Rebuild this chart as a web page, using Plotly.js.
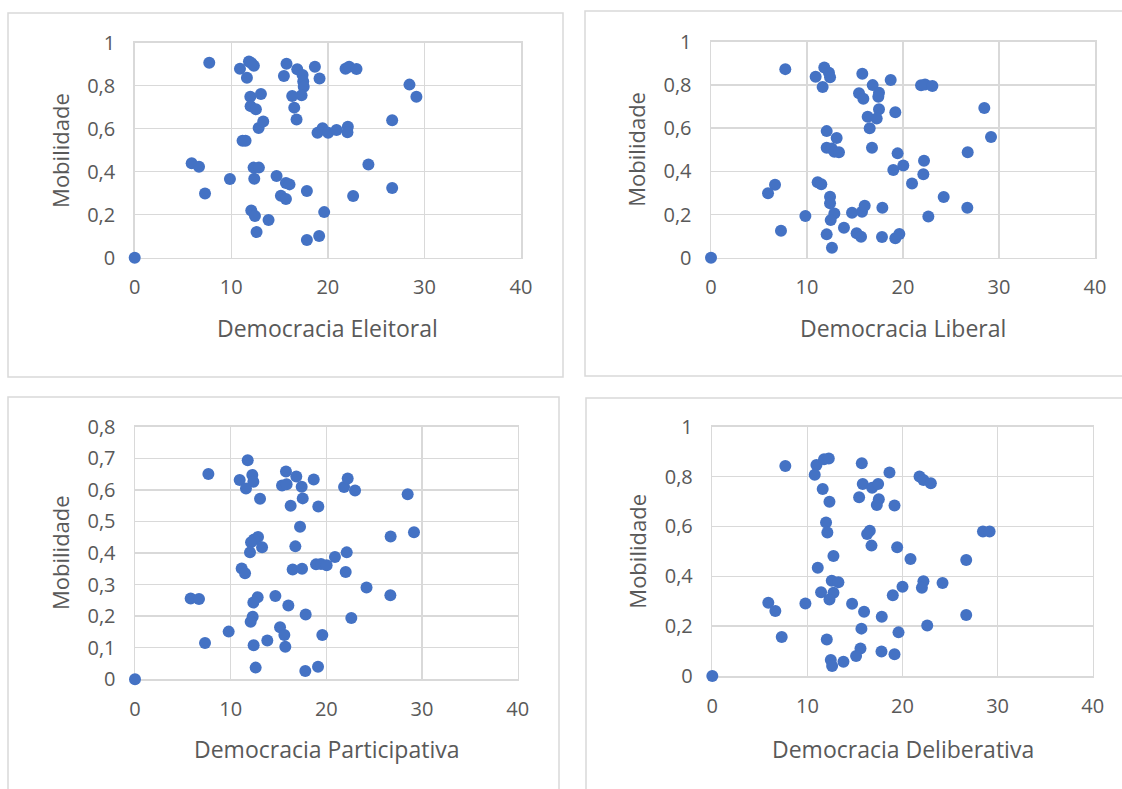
<!DOCTYPE html>
<html>
<head>
<meta charset="utf-8">
<script src="https://cdn.plot.ly/plotly-3.0.1.min.js"></script>
<style>html,body{margin:0;padding:0;background:#fff}#chart{width:1122px;height:789px}</style>
</head>
<body>
<div id="chart"></div>
<script>
// Panel titles
const xTitles = ["Democracia Eleitoral", "Democracia Liberal", "Democracia Participativa", "Democracia Deliberativa"];
const yTitle = "Mobilidade";

// Democracia Eleitoral
const xEleitoral = [0,7.72,10.9,11.83,12.34,12.1,11.62,15.72,15.45,16.83,17.38,17.45,17.5,18.66,19.14,16.31,17.28,16.52,16.76,11.97,13.07,12.0,12.55,12.83,13.31,11.17,11.48,21.83,22.2,22.97,28.45,29.17,26.66,18.93,19.45,20.03,20.9,22.07,22.03,5.9,6.66,7.28,9.86,12.31,12.86,12.38,14.69,15.66,16.03,15.14,15.66,17.83,24.2,26.66,22.62,12.07,12.45,13.86,12.62,19.62,17.83,19.1];
const yEleitoral = [0,0.907,0.879,0.913,0.893,0.904,0.837,0.902,0.845,0.876,0.85,0.819,0.795,0.888,0.833,0.752,0.755,0.698,0.643,0.749,0.761,0.705,0.69,0.603,0.634,0.544,0.544,0.879,0.888,0.878,0.805,0.749,0.639,0.581,0.602,0.581,0.594,0.609,0.584,0.439,0.423,0.299,0.366,0.419,0.419,0.367,0.38,0.347,0.341,0.288,0.273,0.31,0.433,0.324,0.287,0.219,0.194,0.175,0.119,0.212,0.082,0.101];

// Democracia Liberal
const xLiberal = [0,7.74,10.9,11.8,12.29,12.4,11.63,15.76,16.84,18.72,15.42,15.87,17.5,17.43,17.5,16.32,17.26,19.2,16.53,21.88,22.3,23.06,28.47,29.17,26.74,12.05,13.09,12.05,12.57,12.85,13.33,16.77,19.44,18.99,20.03,22.19,22.12,20.94,6.67,5.94,11.11,11.49,12.4,12.4,12.85,12.47,9.83,7.29,14.69,15.73,16.01,17.85,24.24,26.7,22.64,13.85,12.05,12.6,15.17,15.63,17.81,19.2,19.62];
const yLiberal = [0,0.873,0.838,0.881,0.856,0.835,0.79,0.852,0.799,0.823,0.761,0.736,0.764,0.745,0.687,0.653,0.644,0.673,0.599,0.798,0.802,0.795,0.693,0.559,0.488,0.586,0.554,0.509,0.506,0.491,0.488,0.509,0.483,0.406,0.427,0.449,0.386,0.344,0.338,0.298,0.349,0.34,0.282,0.252,0.205,0.174,0.193,0.125,0.208,0.213,0.241,0.231,0.281,0.231,0.191,0.139,0.108,0.046,0.113,0.097,0.096,0.09,0.11];

// Democracia Participativa
const xParticipativa = [0,7.67,11.78,10.94,12.26,12.37,11.6,13.07,15.78,15.37,15.85,16.86,17.42,17.53,16.27,18.68,19.16,21.85,22.23,23.0,28.5,29.16,26.72,17.25,12.86,12.44,12.13,13.28,12.02,16.76,20.9,22.13,18.92,19.44,20.03,16.48,17.46,22.02,11.15,11.5,5.82,6.69,14.67,12.82,12.37,16.03,24.2,26.69,17.84,22.61,12.3,12.09,9.79,7.32,15.16,15.61,13.83,12.4,15.71,19.58,12.61,17.8,19.13];
const yParticipativa = [0,0.65,0.694,0.631,0.647,0.626,0.604,0.572,0.658,0.614,0.618,0.642,0.61,0.573,0.55,0.633,0.547,0.609,0.636,0.598,0.586,0.466,0.452,0.483,0.451,0.443,0.434,0.418,0.402,0.421,0.387,0.402,0.364,0.365,0.361,0.348,0.35,0.34,0.351,0.336,0.256,0.254,0.264,0.26,0.243,0.234,0.291,0.266,0.205,0.194,0.198,0.182,0.151,0.115,0.165,0.14,0.123,0.108,0.103,0.14,0.037,0.026,0.04];

// Democracia Deliberativa
const xDeliberativa = [0,7.68,10.95,10.77,11.75,12.25,11.61,12.32,11.96,12.1,12.74,11.09,15.72,15.82,16.81,17.44,18.63,15.44,17.51,17.3,19.16,21.79,22.2,22.98,28.46,29.16,26.7,16.56,16.28,16.74,19.44,20.84,22.2,22.04,24.21,20.0,18.98,12.56,13.26,11.44,12.74,12.32,5.89,6.63,9.79,14.7,15.96,17.82,26.7,22.6,15.68,19.58,7.3,12.04,15.58,15.12,17.79,19.16,12.46,12.6,13.79];
const yDeliberativa = [0,0.842,0.846,0.807,0.869,0.872,0.75,0.699,0.616,0.576,0.481,0.434,0.853,0.77,0.755,0.77,0.816,0.717,0.709,0.686,0.684,0.8,0.786,0.773,0.58,0.58,0.465,0.583,0.57,0.523,0.516,0.469,0.38,0.354,0.373,0.358,0.324,0.382,0.376,0.336,0.334,0.307,0.294,0.261,0.291,0.29,0.258,0.238,0.245,0.203,0.19,0.175,0.156,0.146,0.11,0.08,0.098,0.087,0.064,0.04,0.057];

const W = 1122, H = 789;
const px = v => v / W;
const py = v => 1 - v / H;

const blue = "#4472C4";
const grid = "#d9d9d9";
const txt = "#595959";
const FONT = "'Open Sans', Lato, sans-serif";

const xs = [xEleitoral, xLiberal, xParticipativa, xDeliberativa];
const ys = [yEleitoral, yLiberal, yParticipativa, yDeliberativa];

const traces = xs.map((x, i) => ({
  type: "scatter", mode: "markers",
  x: x, y: ys[i],
  xaxis: i === 0 ? "x" : "x" + (i + 1),
  yaxis: i === 0 ? "y" : "y" + (i + 1),
  marker: {color: blue, size: 12},
  cliponaxis: false,
  hoverinfo: "x+y"
}));

// plot areas in pixels: [left, right, bottom, top]
const areas = [
  [134.7, 521, 257.7, 42.7],
  [711, 1095, 257.7, 41.7],
  [135, 517.7, 679.3, 426.7],
  [712.3, 1092.7, 676, 426.7]
];
const yMax = [1, 1, 0.8, 1];
const yStep = [0.2, 0.2, 0.1, 0.2];

const layout = {
  width: W, height: H,
  margin: {l: 0, r: 0, t: 0, b: 0},
  paper_bgcolor: "#fff", plot_bgcolor: "#fff",
  showlegend: false,
  separators: ",.",
  font: {family: FONT, color: txt, size: 20},
  shapes: [], annotations: []
};

areas.forEach((a, i) => {
  const sx = i === 0 ? "" : String(i + 1);
  layout["xaxis" + sx] = {
    domain: [px(a[0]), px(a[1])],
    anchor: "y" + sx,
    range: [0, 40], dtick: 10, tick0: 0,
    showgrid: true, gridcolor: grid, gridwidth: 1.5,
    showline: true, linecolor: grid, linewidth: 1.5, mirror: true,
    layer: "below traces",
    zeroline: false, ticks: "", ticklabelstandoff: 11,
    tickfont: {family: FONT, size: 20, color: txt},
    fixedrange: true
  };
  layout["yaxis" + sx] = {
    domain: [py(a[2]), py(a[3])],
    anchor: "x" + sx,
    range: [0, yMax[i]], dtick: yStep[i], tick0: 0,
    showgrid: true, gridcolor: grid, gridwidth: 1.5,
    showline: true, linecolor: grid, linewidth: 1.5, mirror: true,
    layer: "below traces",
    zeroline: false, ticks: "", ticklabelstandoff: 14,
    tickfont: {family: FONT, size: 20, color: txt},
    fixedrange: true
  };
  const isTop = i < 2;
  layout.annotations.push({
    xref: "paper", yref: "paper",
    x: px((a[0] + a[1]) / 2), y: py(isTop ? 328 : 749),
    text: xTitles[i], showarrow: false,
    font: {family: FONT, size: 23, color: txt},
    xanchor: "center", yanchor: "middle"
  });
  layout.annotations.push({
    xref: "paper", yref: "paper",
    x: px(a[0] - 75), y: py((a[2] + a[3]) / 2),
    text: yTitle, showarrow: false, textangle: -90,
    font: {family: FONT, size: 22, color: txt},
    xanchor: "center", yanchor: "middle"
  });
});

// chart frames
const boxes = [
  [8, 563, 13, 377],
  [585, 1135, 11, 376],
  [8, 559, 397, 800],
  [586, 1135, 398, 800]
];
boxes.forEach(b => layout.shapes.push({
  type: "rect", xref: "paper", yref: "paper",
  x0: px(b[0]), x1: px(b[1]), y0: py(b[3]), y1: py(b[2]),
  line: {color: grid, width: 1.5}, fillcolor: "rgba(0,0,0,0)", layer: "below"
}));

Plotly.newPlot("chart", traces, layout, {staticPlot: true, displayModeBar: false});
</script>
</body>
</html>
